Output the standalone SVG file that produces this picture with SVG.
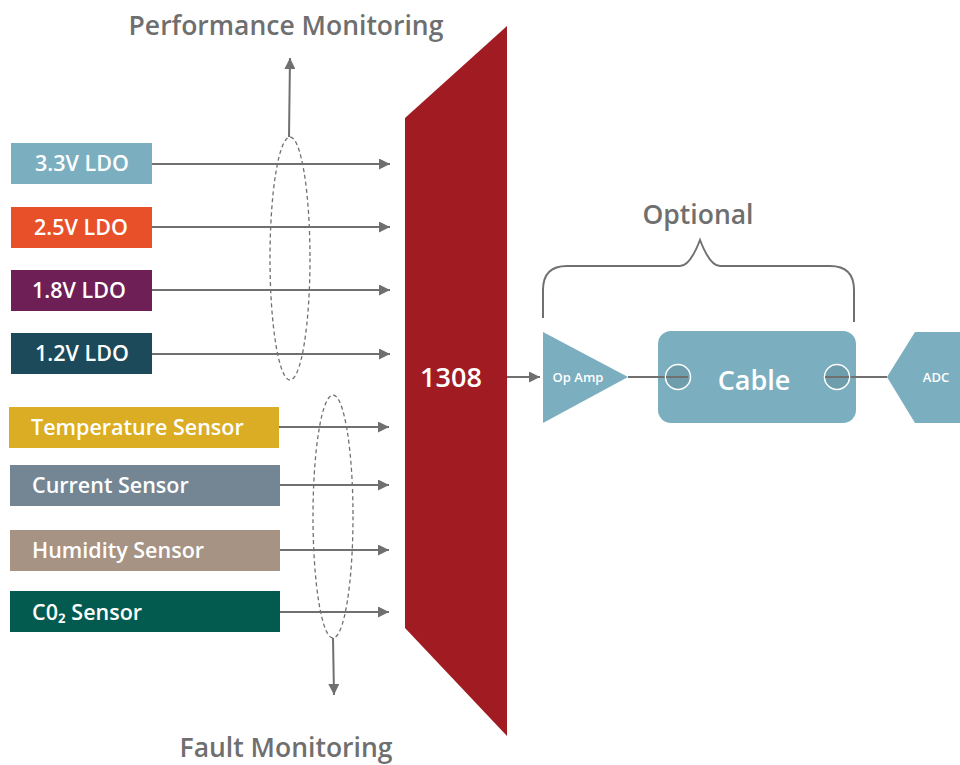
<svg xmlns="http://www.w3.org/2000/svg" width="960" height="765" viewBox="0 0 960 765">
<style>
.lbl{font-family:"Open Sans","Liberation Sans",sans-serif;fill:#fff;font-weight:600}
.box{font-size:21.5px}
.title{font-family:"Open Sans","Liberation Sans",sans-serif;fill:#6f6f6f;font-size:26.5px;font-weight:600}
.conn{stroke:#707070;stroke-width:2;fill:none}
.ell{stroke:#707070;stroke-width:1.3;fill:none;stroke-dasharray:4 3}
</style>
<defs>
<marker id="ah" viewBox="0 0 10 10" refX="10" refY="5" markerWidth="11" markerHeight="11" markerUnits="userSpaceOnUse" orient="auto">
<path d="M0,0 L10,5 L0,10 z" fill="#6f6f6f"/>
</marker>
</defs>
<rect width="960" height="765" fill="#fff"/>

<text class="title" x="286" y="35" text-anchor="middle">Performance Monitoring</text>
<text class="title" x="286" y="757" text-anchor="middle">Fault Monitoring</text>
<text class="title" x="698" y="224" text-anchor="middle">Optional</text>

<g id="n1308">
<polygon points="405,118 507,26 507,736 405,628" fill="#a01c22"/>
<text class="lbl" x="451" y="387" font-size="27" text-anchor="middle">1308</text>
</g>

<g id="ldo33"><rect x="11" y="143" width="141" height="41" fill="#7bafc0"/><text class="lbl box" x="82" y="171" text-anchor="middle">3.3V LDO</text></g>
<g id="ldo25"><rect x="11" y="207" width="141" height="41" fill="#e8502a"/><text class="lbl box" x="81" y="235" text-anchor="middle">2.5V LDO</text></g>
<g id="ldo18"><rect x="11" y="270" width="141" height="41" fill="#6e2056"/><text class="lbl box" x="79" y="298" text-anchor="middle">1.8V LDO</text></g>
<g id="ldo12"><rect x="11" y="333" width="141" height="41" fill="#1c4a5a"/><text class="lbl box" x="82" y="361" text-anchor="middle">1.2V LDO</text></g>

<g id="temp"><rect x="9" y="407" width="270" height="41" fill="#dbad24"/><text class="lbl box" x="31" y="435">Temperature Sensor</text></g>
<g id="current"><rect x="10" y="465" width="270" height="41" fill="#748694"/><text class="lbl box" x="32" y="493">Current Sensor</text></g>
<g id="humidity"><rect x="10" y="530" width="270" height="41" fill="#a69383"/><text class="lbl box" x="32" y="558">Humidity Sensor</text></g>
<g id="co2"><rect x="10" y="591" width="270" height="41" fill="#035a4f"/><text class="lbl box" x="32" y="620">C0₂ Sensor</text></g>

<g id="opamp"><polygon points="543,332 628,377 543,423" fill="#7bafc0"/><text class="lbl" x="578" y="382" font-size="13" text-anchor="middle">Op Amp</text></g>
<g id="cable">
<rect x="658" y="331" width="198" height="92" rx="13" fill="#7bafc0"/>
<text class="lbl" x="754" y="390" font-size="27" text-anchor="middle">Cable</text>
</g>
<g id="adc"><polygon points="887,377 915,332 960,332 960,423 915,423" fill="#7bafc0"/><text class="lbl" x="936" y="382" font-size="13" text-anchor="middle">ADC</text></g>

<g id="connectors">
<line class="conn" x1="152" y1="164" x2="390" y2="164" marker-end="url(#ah)"/>
<line class="conn" x1="152" y1="227" x2="390" y2="227" marker-end="url(#ah)"/>
<line class="conn" x1="152" y1="290" x2="390" y2="290" marker-end="url(#ah)"/>
<line class="conn" x1="152" y1="354" x2="390" y2="354" marker-end="url(#ah)"/>
<line class="conn" x1="279" y1="427" x2="389" y2="427" marker-end="url(#ah)"/>
<line class="conn" x1="280" y1="485" x2="389" y2="485" marker-end="url(#ah)"/>
<line class="conn" x1="280" y1="550" x2="389" y2="550" marker-end="url(#ah)"/>
<line class="conn" x1="280" y1="612" x2="389" y2="612" marker-end="url(#ah)"/>
<ellipse class="ell" cx="290" cy="258.5" rx="20" ry="121.5"/>
<ellipse class="ell" cx="333" cy="516.5" rx="20" ry="121.5"/>
<line class="conn" x1="289" y1="137" x2="290" y2="58" marker-end="url(#ah)"/>
<line class="conn" x1="333" y1="638" x2="334" y2="695" marker-end="url(#ah)"/>
<line class="conn" x1="507" y1="377" x2="540" y2="377" marker-end="url(#ah)"/>
<line class="conn" x1="628" y1="377" x2="678" y2="377"/>
<line class="conn" x1="837" y1="377" x2="887" y2="377"/>
<path class="conn" stroke-width="1.5" d="M543,318 V290 Q543,266 567,266 H680 Q690,266 700,240 Q710,266 720,266 H830 Q854,266 854,290 V322"/>
</g>
<g id="ports">
<circle cx="678" cy="377" r="12.5" fill="#6e9dac" stroke="#fff" stroke-width="1.5"/>
<circle cx="837" cy="377" r="12.5" fill="#6e9dac" stroke="#fff" stroke-width="1.5"/>
<line class="conn" x1="666" y1="377" x2="688" y2="377"/>
<line class="conn" x1="825" y1="377" x2="849" y2="377"/>
</g>
</svg>
